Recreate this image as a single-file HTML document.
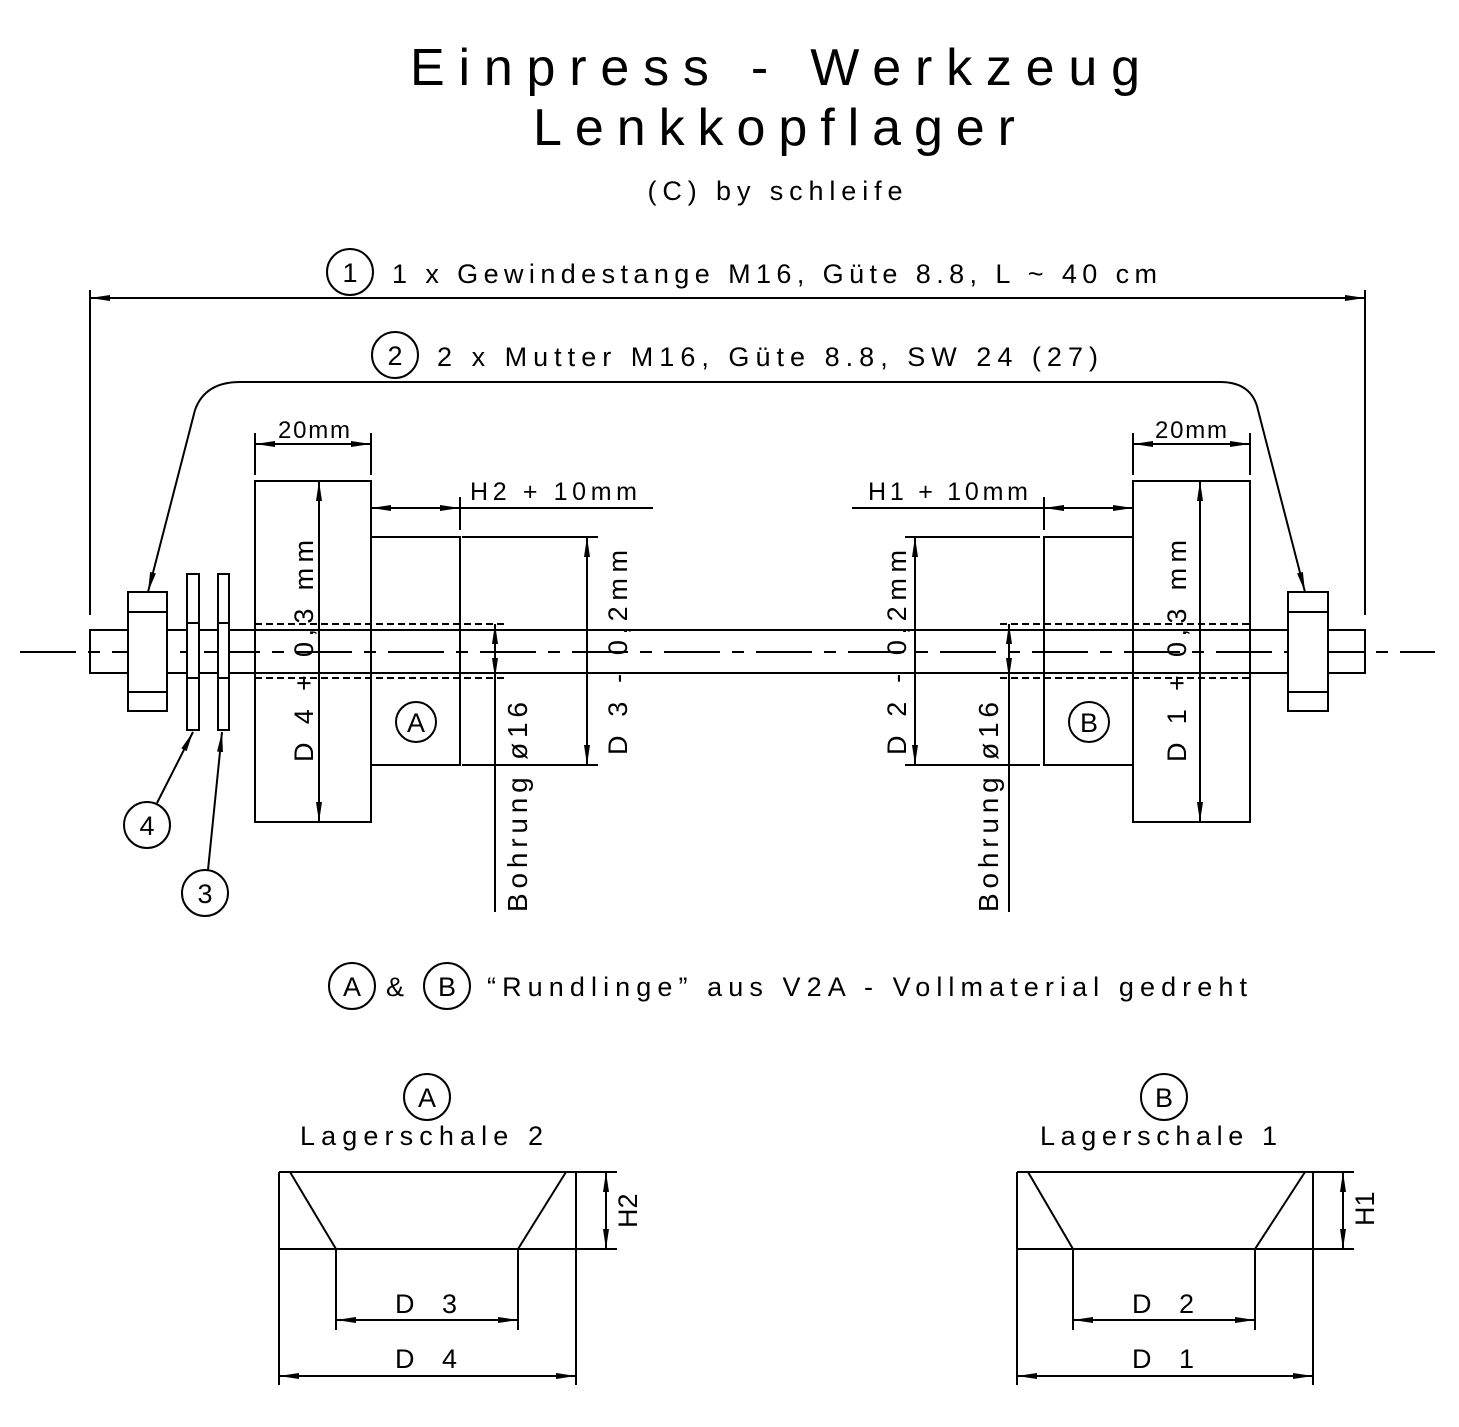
<!DOCTYPE html>
<html><head><meta charset="utf-8"><style>
html,body{margin:0;padding:0;background:#fff;}
svg{display:block;}
text{font-family:"Liberation Sans",sans-serif;fill:#000;}
</style></head><body>
<svg width="1459" height="1427" viewBox="0 0 1459 1427" xmlns="http://www.w3.org/2000/svg">
<defs>
<marker id="a" viewBox="0 0 20 6" refX="20" refY="3" markerWidth="20" markerHeight="6" markerUnits="userSpaceOnUse" orient="auto-start-reverse">
<path d="M0,0 L20,3 L0,6 Z" fill="#000"/></marker>
</defs>
<text x="775" y="85" font-size="52" text-anchor="middle" textLength="730" lengthAdjust="spacing">Einpress - Werkzeug</text>
<text x="774" y="145" font-size="52" text-anchor="middle" textLength="482" lengthAdjust="spacing">Lenkkopflager</text>
<text x="775" y="200" font-size="27" text-anchor="middle" textLength="255" lengthAdjust="spacing">(C) by schleife</text>

<g stroke="#000" stroke-width="2" fill="none">
<circle cx="350" cy="272" r="23"/>
<circle cx="395" cy="355" r="23"/>
<line x1="90" y1="290" x2="90" y2="615"/>
<line x1="1365" y1="290" x2="1365" y2="615"/>
<line x1="90" y1="298" x2="1365" y2="298" marker-start="url(#a)" marker-end="url(#a)"/>
<path d="M195,410 Q205,382 240,382 L1220,382 Q1252,382 1258,410 L1305,592" marker-end="url(#a)"/>
<path d="M195,410 L148,592" marker-end="url(#a)"/>
<rect x="90" y="630" width="1275" height="43"/>
<line x1="20" y1="652" x2="1435" y2="652" stroke-dasharray="56 12 12 12"/>
<rect x="128" y="592" width="39" height="119" fill="#fff"/>
<line x1="128" y1="612" x2="167" y2="612"/><line x1="128" y1="692" x2="167" y2="692"/>
<rect x="187" y="574" width="12" height="156" fill="#fff"/>
<rect x="218" y="574" width="11" height="156" fill="#fff"/>
<line x1="187" y1="623" x2="199" y2="623"/><line x1="187" y1="678" x2="199" y2="678"/>
<line x1="218" y1="623" x2="229" y2="623"/><line x1="218" y1="678" x2="229" y2="678"/>
<rect x="1288" y="592" width="40" height="119" fill="#fff"/>
<line x1="1288" y1="612" x2="1328" y2="612"/><line x1="1288" y1="692" x2="1328" y2="692"/>
<circle cx="147" cy="825" r="23"/>
<circle cx="205" cy="893" r="23"/>
<line x1="157" y1="803" x2="193" y2="732" marker-end="url(#a)"/>
<line x1="208" y1="870" x2="222" y2="732" marker-end="url(#a)"/>
<rect x="255" y="481" width="116" height="341"/>
<rect x="371" y="537" width="89" height="228"/>
<line x1="255" y1="624" x2="505" y2="624" stroke-dasharray="7 4"/>
<line x1="255" y1="678" x2="505" y2="678" stroke-dasharray="7 4"/>
<circle cx="416" cy="722" r="20"/>
<line x1="255" y1="433" x2="255" y2="475"/><line x1="371" y1="433" x2="371" y2="475"/>
<line x1="255" y1="444" x2="371" y2="444" marker-start="url(#a)" marker-end="url(#a)"/>
<line x1="371" y1="508" x2="460" y2="508" marker-start="url(#a)" marker-end="url(#a)"/>
<line x1="460" y1="497" x2="460" y2="530"/>
<line x1="460" y1="508" x2="653" y2="508"/>
<line x1="462" y1="537" x2="598" y2="537"/><line x1="462" y1="765" x2="598" y2="765"/>
<line x1="587" y1="537" x2="587" y2="765" marker-start="url(#a)" marker-end="url(#a)"/>
<line x1="319" y1="481" x2="319" y2="822" marker-start="url(#a)" marker-end="url(#a)"/>
<line x1="495" y1="912" x2="495" y2="678"/>
<line x1="495" y1="652" x2="495" y2="624" marker-end="url(#a)"/>
<line x1="495" y1="652" x2="495" y2="678" marker-end="url(#a)"/>
<rect x="1133" y="481" width="117" height="341"/>
<rect x="1044" y="537" width="89" height="228"/>
<line x1="1000" y1="624" x2="1250" y2="624" stroke-dasharray="7 4"/>
<line x1="1000" y1="678" x2="1250" y2="678" stroke-dasharray="7 4"/>
<circle cx="1089" cy="722" r="20"/>
<line x1="1133" y1="433" x2="1133" y2="475"/><line x1="1250" y1="433" x2="1250" y2="475"/>
<line x1="1133" y1="444" x2="1250" y2="444" marker-start="url(#a)" marker-end="url(#a)"/>
<line x1="1044" y1="508" x2="1133" y2="508" marker-start="url(#a)" marker-end="url(#a)"/>
<line x1="1044" y1="497" x2="1044" y2="530"/>
<line x1="852" y1="508" x2="1044" y2="508"/>
<line x1="905" y1="537" x2="1040" y2="537"/><line x1="905" y1="765" x2="1040" y2="765"/>
<line x1="915" y1="537" x2="915" y2="765" marker-start="url(#a)" marker-end="url(#a)"/>
<line x1="1200" y1="481" x2="1200" y2="822" marker-start="url(#a)" marker-end="url(#a)"/>
<line x1="1009" y1="912" x2="1009" y2="678"/>
<line x1="1009" y1="652" x2="1009" y2="624" marker-end="url(#a)"/>
<line x1="1009" y1="652" x2="1009" y2="678" marker-end="url(#a)"/>
<circle cx="352" cy="986" r="23"/>
<circle cx="447" cy="986" r="23"/>
<circle cx="427" cy="1097" r="23"/>
<line x1="279" y1="1172" x2="576" y2="1172"/><line x1="279" y1="1249" x2="576" y2="1249"/>
<line x1="279" y1="1172" x2="279" y2="1385"/><line x1="576" y1="1172" x2="576" y2="1385"/>
<line x1="290" y1="1172" x2="336" y2="1249"/><line x1="566" y1="1172" x2="518" y2="1249"/>
<line x1="336" y1="1249" x2="336" y2="1330"/><line x1="518" y1="1249" x2="518" y2="1330"/>
<line x1="336" y1="1320" x2="518" y2="1320" marker-start="url(#a)" marker-end="url(#a)"/>
<line x1="279" y1="1376" x2="576" y2="1376" marker-start="url(#a)" marker-end="url(#a)"/>
<line x1="576" y1="1172" x2="617" y2="1172"/><line x1="576" y1="1249" x2="617" y2="1249"/>
<line x1="606" y1="1172" x2="606" y2="1249" marker-start="url(#a)" marker-end="url(#a)"/>
<circle cx="1164" cy="1097" r="23"/>
<line x1="1017" y1="1172" x2="1313" y2="1172"/><line x1="1017" y1="1249" x2="1313" y2="1249"/>
<line x1="1017" y1="1172" x2="1017" y2="1385"/><line x1="1313" y1="1172" x2="1313" y2="1385"/>
<line x1="1028" y1="1172" x2="1073" y2="1249"/><line x1="1305" y1="1172" x2="1255" y2="1249"/>
<line x1="1073" y1="1249" x2="1073" y2="1330"/><line x1="1255" y1="1249" x2="1255" y2="1330"/>
<line x1="1073" y1="1320" x2="1255" y2="1320" marker-start="url(#a)" marker-end="url(#a)"/>
<line x1="1017" y1="1376" x2="1313" y2="1376" marker-start="url(#a)" marker-end="url(#a)"/>
<line x1="1313" y1="1172" x2="1354" y2="1172"/><line x1="1313" y1="1249" x2="1354" y2="1249"/>
<line x1="1343" y1="1172" x2="1343" y2="1249" marker-start="url(#a)" marker-end="url(#a)"/>
</g>

<g font-size="27">
<text x="350" y="282" text-anchor="middle">1</text>
<text x="395" y="365" text-anchor="middle">2</text>
<text x="392" y="283" textLength="765" lengthAdjust="spacing">1 x Gewindestange M16, Güte 8.8, L ~ 40 cm</text>
<text x="437" y="366" textLength="661" lengthAdjust="spacing">2 x Mutter M16, Güte 8.8, SW 24 (27)</text>
<text x="278" y="438" font-size="24" textLength="72" lengthAdjust="spacing">20mm</text>
<text x="1155" y="438" font-size="24" textLength="72" lengthAdjust="spacing">20mm</text>
<text x="470" y="500" font-size="25" textLength="167" lengthAdjust="spacing">H2 + 10mm</text>
<text x="868" y="500" font-size="25" textLength="160" lengthAdjust="spacing">H1 + 10mm</text>
<text x="416" y="732" text-anchor="middle">A</text>
<text x="1089" y="732" text-anchor="middle">B</text>
<text x="147" y="835" text-anchor="middle">4</text>
<text x="205" y="903" text-anchor="middle">3</text>
<text transform="translate(313,762) rotate(-90)" textLength="222" lengthAdjust="spacing">D 4 + 0,3 mm</text>
<text transform="translate(627,755) rotate(-90)" textLength="205" lengthAdjust="spacing">D 3 - 0,2mm</text>
<text transform="translate(906,755) rotate(-90)" textLength="205" lengthAdjust="spacing">D 2 - 0,2mm</text>
<text transform="translate(1186,762) rotate(-90)" textLength="222" lengthAdjust="spacing">D 1 + 0,3 mm</text>
<text transform="translate(527,912) rotate(-90)" font-size="28" textLength="210" lengthAdjust="spacing">Bohrung  ø16</text>
<text transform="translate(998,912) rotate(-90)" font-size="28" textLength="210" lengthAdjust="spacing">Bohrung  ø16</text>
<text x="352" y="996" text-anchor="middle">A</text>
<text x="447" y="996" text-anchor="middle">B</text>
<text x="395" y="996" text-anchor="middle">&amp;</text>
<text x="487" y="996" textLength="760" lengthAdjust="spacing">“Rundlinge” aus V2A - Vollmaterial gedreht</text>
<text x="427" y="1107" text-anchor="middle">A</text>
<text x="1164" y="1107" text-anchor="middle">B</text>
<text x="300" y="1145" textLength="243" lengthAdjust="spacing">Lagerschale 2</text>
<text x="1040" y="1145" textLength="237" lengthAdjust="spacing">Lagerschale 1</text>
<text x="395" y="1313" textLength="62" lengthAdjust="spacing">D 3</text>
<text x="395" y="1368" textLength="62" lengthAdjust="spacing">D 4</text>
<text x="1132" y="1313" textLength="62" lengthAdjust="spacing">D 2</text>
<text x="1132" y="1368" textLength="62" lengthAdjust="spacing">D 1</text>
<text transform="translate(637,1228) rotate(-90)">H2</text>
<text transform="translate(1374,1226) rotate(-90)">H1</text>
</g>
</svg>
</body></html>
